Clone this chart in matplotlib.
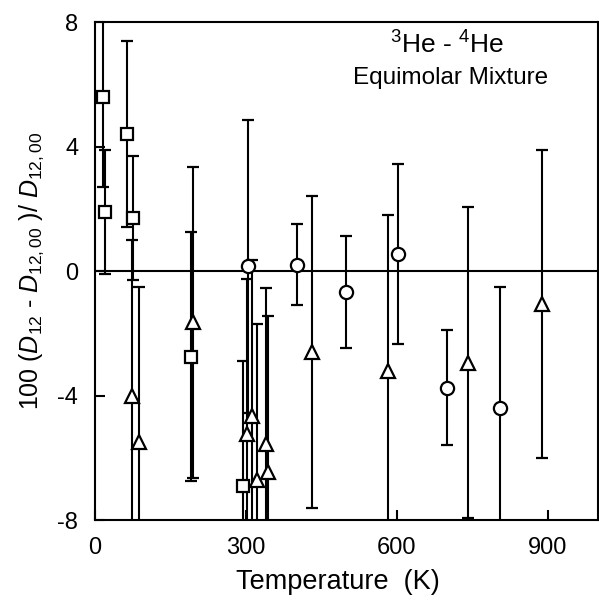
import matplotlib
matplotlib.use("Agg")
import matplotlib.pyplot as plt

plt.rcParams['font.family'] = ['Liberation Sans', 'DejaVu Sans']
plt.rcParams['mathtext.fontset'] = 'custom'
plt.rcParams['mathtext.rm'] = 'Liberation Sans'
plt.rcParams['mathtext.it'] = 'Liberation Sans:italic'

# squares
sq_T = [15, 20, 63, 76, 190, 294]
sq_y = [5.6, 1.9, 4.4, 1.7, -2.75, -6.9]
sq_err = [2.9, 2.0, 3.0, 2.0, 4.0, 4.0]

# triangles
tr_T = [74, 87, 195, 303, 313, 323, 340, 343, 431, 583, 741, 889]
tr_y = [-4.0, -5.5, -1.65, -5.25, -4.65, -6.7, -5.55, -6.45, -2.6, -3.2, -2.95, -1.05]
tr_err = [5.0, 5.0, 5.0, 5.0, 5.0, 5.0, 5.0, 5.0, 5.0, 5.0, 5.0, 4.95]

# circles
ci_T = [305, 402, 500, 602, 699, 806]
ci_y = [0.15, 0.2, -0.67, 0.55, -3.75, -4.4]
ci_err = [4.7, 1.3, 1.8, 2.9, 1.85, 3.9]

xticks = [0, 300, 600, 900]
yticks = [-8, -4, 0, 4, 8]
ytick_labels = ['-8', '-4', '0', '4', '8']

fig = plt.figure(figsize=(5.99, 6.03), dpi=100)
ax = fig.add_axes([0.1586, 0.1376, 0.8397, 0.8259])

style = dict(color='black', ecolor='black', mfc='white', mec='black', mew=1.6,
             elinewidth=1.5, capsize=4.5, capthick=1.5, linestyle='none')
ax.errorbar(sq_T, sq_y, yerr=sq_err, fmt='s', ms=8.5, **style)
ax.errorbar(tr_T, tr_y, yerr=tr_err, fmt='^', ms=10, **style)
ax.errorbar(ci_T, ci_y, yerr=ci_err, fmt='o', ms=9.5, **style)

ax.axhline(0, color='black', lw=1.5, zorder=1)

ax.set_xlim(0, 1000)
ax.set_ylim(-8, 8)
ax.set_xticks(xticks)
ax.set_yticks(yticks)
ax.set_yticklabels(ytick_labels)
ax.tick_params(direction='in', length=7, width=1.5, labelsize=17)
ax.tick_params(axis='x', pad=12)
ax.tick_params(axis='y', pad=12)
for s in ax.spines.values():
    s.set_linewidth(1.5)

ax.set_xlabel('Temperature  (K)', fontsize=19.5)
ax.xaxis.set_label_coords(0.483, -0.098, transform=ax.transAxes)
ax.xaxis.label.set_va('top')
ax.set_ylabel(r'100 ($D_{12}$ - $D_{12,00}$ )/ $D_{12,00}$', fontsize=18, labelpad=8)

ax.text(0.70, 0.954, r'$^{3}$He - $^{4}$He', transform=ax.transAxes,
        ha='center', va='center', fontsize=19)
ax.text(0.706, 0.888, 'Equimolar Mixture', transform=ax.transAxes,
        ha='center', va='center', fontsize=17.5)

plt.savefig("out.png", dpi=100)
